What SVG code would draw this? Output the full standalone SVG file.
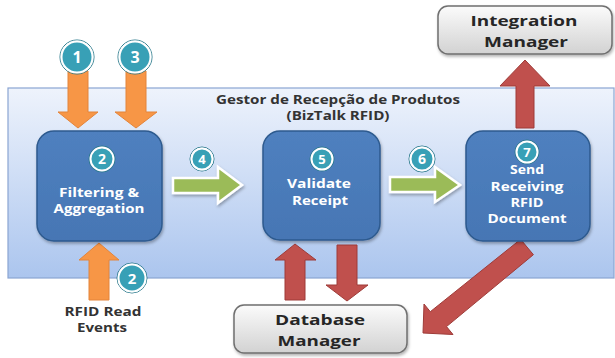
<svg xmlns="http://www.w3.org/2000/svg" width="615" height="358" viewBox="0 0 615 358">
<defs>
<linearGradient id="panelG" x1="0" y1="0" x2="0" y2="1">
<stop offset="0" stop-color="#eef3fc"/>
<stop offset="1" stop-color="#abc5ee"/>
</linearGradient>
<linearGradient id="grayG" x1="0" y1="0" x2="0" y2="1">
<stop offset="0" stop-color="#fbfbfb"/>
<stop offset="1" stop-color="#d2d2d2"/>
</linearGradient>
<linearGradient id="nodeG" x1="0" y1="0" x2="0" y2="1">
<stop offset="0" stop-color="#4f80bf"/>
<stop offset="1" stop-color="#4676b4"/>
</linearGradient>
<filter id="sh" x="-10%" y="-10%" width="130%" height="130%">
<feDropShadow dx="1" dy="2" stdDeviation="1.5" flood-color="#000" flood-opacity="0.3"/>
</filter>
</defs>
<style>
.panel{fill:url(#panelG);stroke:#8aa5d2;stroke-width:1.2}
.node{fill:url(#nodeG);stroke:#2d5a8e;stroke-width:1.5}
.ext{fill:url(#grayG);stroke:#6f6f6f;stroke-width:1.5}
.nt{font-family:"Open Sans","Liberation Sans",sans-serif;font-weight:bold;font-size:12.5px;fill:#ffffff;text-anchor:middle}
.et{font-family:"Open Sans","Liberation Sans",sans-serif;font-weight:bold;font-size:15px;fill:#262626;text-anchor:middle}
.lt{font-family:"Open Sans","Liberation Sans",sans-serif;font-weight:bold;font-size:12.5px;fill:#333333;text-anchor:middle}
.orange{fill:#f79646;stroke:#e3843a;stroke-width:1}
.red{fill:#c0504d;stroke:#9e3b38;stroke-width:1}
.green{fill:#9bbb59;stroke:#ffffff;stroke-width:2.5}
.badge{fill:#38a0b6;stroke:#ffffff;stroke-width:2}
.ring{fill:none;stroke:#2a7a8c;stroke-width:1}
.bt{font-family:"Open Sans","Liberation Sans",sans-serif;font-weight:bold;fill:#ffffff;text-anchor:middle}
</style>

<g id="panel">
<rect class="panel" x="8" y="88" width="606" height="190"/>
<text class="lt" x="338" y="104" textLength="244" lengthAdjust="spacingAndGlyphs">Gestor de Recepção de Produtos</text>
<text class="lt" x="338" y="120" textLength="103" lengthAdjust="spacingAndGlyphs">(BizTalk RFID)</text>
</g>

<g id="connectors">
<polygon class="orange" points="68,71 88,71 88,112 98,112 78,128 58,112 68,112"/>
<polygon class="orange" points="126,71 146,71 146,112 157,112 136,128 115,112 126,112"/>
<polygon class="orange" points="89,300 109,300 109,260 119,260 99,243 79,260 89,260"/>
<g filter="url(#sh)">
<polygon class="green" points="173,178 218,178 218,167 242,185 218,203 218,193 173,193"/>
<polygon class="green" points="390,177 435,177 435,167 460,185 435,202 435,192 390,192"/>
</g>
<polygon class="red" points="285,300 305,300 305,260 316,260 295,244 275,260 285,260"/>
<polygon class="red" points="337,245 357,245 357,285 368,285 347,301 326,285 337,285"/>
<polygon class="red" points="516,128 534,128 534,86 550,86 525,60 500,86 516,86"/>
<polygon class="red" points="520.6,239.3 533.4,254.7 446.5,326.6 453,334.5 423,333 424,304 430.3,311.7"/>
</g>

<g id="node-filtering">
<rect class="node" x="37" y="131" width="125" height="110" rx="17" filter="url(#sh)"/>
<text class="nt" x="99" y="197" textLength="80" lengthAdjust="spacingAndGlyphs">Filtering &amp;</text>
<text class="nt" x="99" y="213" textLength="91" lengthAdjust="spacingAndGlyphs">Aggregation</text>
</g>

<g id="node-validate">
<rect class="node" x="263" y="131" width="117" height="109" rx="17" filter="url(#sh)"/>
<text class="nt" x="319" y="188" textLength="64" lengthAdjust="spacingAndGlyphs">Validate</text>
<text class="nt" x="320" y="205" textLength="56" lengthAdjust="spacingAndGlyphs">Receipt</text>
</g>

<g id="node-send">
<rect class="node" x="466" y="131" width="124" height="110" rx="17" filter="url(#sh)"/>
<text class="nt" x="527" y="174" textLength="34" lengthAdjust="spacingAndGlyphs">Send</text>
<text class="nt" x="527" y="191" textLength="73" lengthAdjust="spacingAndGlyphs">Receiving</text>
<text class="nt" x="527" y="207" textLength="33" lengthAdjust="spacingAndGlyphs">RFID</text>
<text class="nt" x="527" y="223" textLength="79" lengthAdjust="spacingAndGlyphs">Document</text>
</g>

<g id="node-integration">
<rect class="ext" x="438" y="6" width="174" height="48" rx="10" filter="url(#sh)"/>
<text class="et" x="524" y="26" textLength="107" lengthAdjust="spacingAndGlyphs">Integration</text>
<text class="et" x="526" y="47" textLength="84" lengthAdjust="spacingAndGlyphs">Manager</text>
</g>

<g id="node-database">
<rect class="ext" x="234" y="305" width="173" height="48" rx="10" filter="url(#sh)"/>
<text class="et" x="320" y="325" textLength="90" lengthAdjust="spacingAndGlyphs">Database</text>
<text class="et" x="319" y="346" textLength="83" lengthAdjust="spacingAndGlyphs">Manager</text>
</g>

<g id="label-rfid">
<text class="lt" x="103" y="316" textLength="77" lengthAdjust="spacingAndGlyphs">RFID Read</text>
<text class="lt" x="102" y="332" textLength="50" lengthAdjust="spacingAndGlyphs">Events</text>
</g>

<g id="badges">
<circle class="ring" cx="77" cy="57" r="17"/><circle class="badge" cx="77" cy="57" r="15.5"/>
<text class="bt" x="77" y="63" font-size="16">1</text>
<circle class="ring" cx="135" cy="57" r="17"/><circle class="badge" cx="135" cy="57" r="15.5"/>
<text class="bt" x="135" y="63" font-size="16">3</text>
<circle class="ring" cx="102" cy="159" r="13"/><circle class="badge" cx="102" cy="159" r="11.5"/>
<text class="bt" x="102" y="164" font-size="14">2</text>
<circle class="ring" cx="202" cy="159" r="12"/><circle class="badge" cx="202" cy="159" r="10.5"/>
<text class="bt" x="202" y="164" font-size="13">4</text>
<circle class="ring" cx="322" cy="159" r="12"/><circle class="badge" cx="322" cy="159" r="10.5"/>
<text class="bt" x="322" y="164" font-size="13">5</text>
<circle class="ring" cx="422" cy="159" r="13"/><circle class="badge" cx="422" cy="159" r="11.5"/>
<text class="bt" x="422" y="164" font-size="14">6</text>
<circle class="ring" cx="527" cy="152" r="12"/><circle class="badge" cx="527" cy="152" r="10.5"/>
<text class="bt" x="527" y="157" font-size="13">7</text>
<circle class="ring" cx="132" cy="278" r="15"/><circle class="badge" cx="132" cy="278" r="13.5"/>
<text class="bt" x="132" y="284" font-size="15">2</text>
</g>
</svg>
